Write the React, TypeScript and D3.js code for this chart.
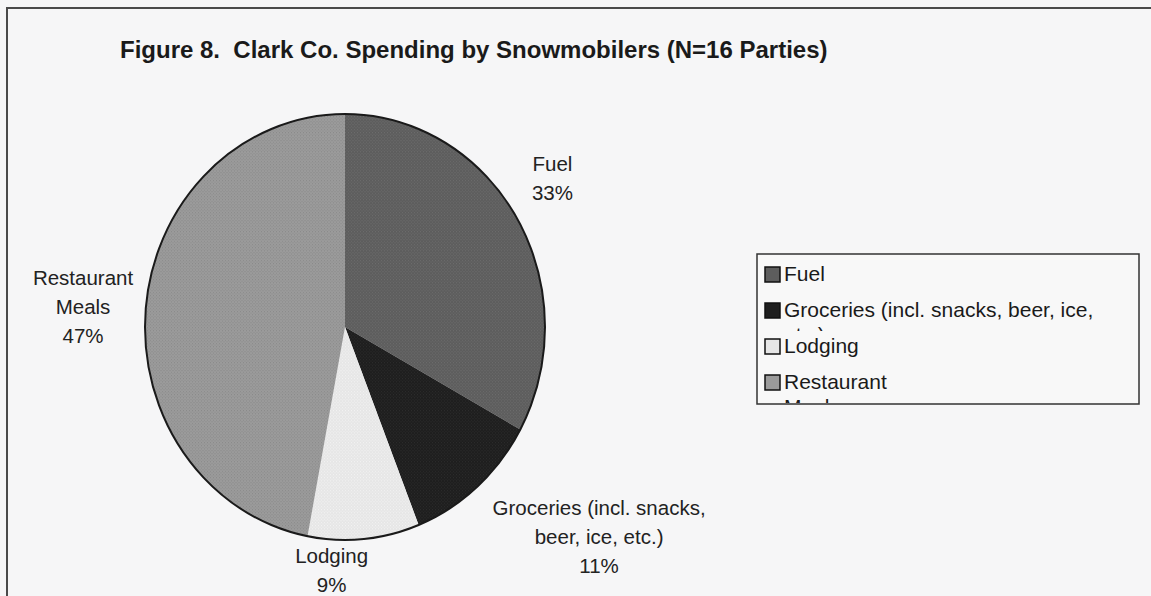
import React from "react";
import * as d3 from "d3";

const categories = ["Fuel", "Groceries (incl. snacks, beer, ice, etc.)", "Lodging", "Restaurant Meals"];
const values = [33, 11, 9, 47];
const pieLabelLines = [
  ["Fuel", "33%"],
  ["Groceries (incl. snacks,", "beer, ice, etc.)", "11%"],
  ["Lodging", "9%"],
  ["Restaurant", "Meals", "47%"],
];
const legendLines = [
  ["Fuel"],
  ["Groceries (incl. snacks, beer, ice,", "etc.)"],
  ["Lodging"],
  ["Restaurant", "Meals"],
];
const title = "Figure 8.  Clark Co. Spending by Snowmobilers (N=16 Parties)";

const W = 1151;
const H = 596;
const FILLS = ["#5d5d5d", "#1e1e1e", "#e6e6e6", "#9b9b9b"];
const DOTS = ["#6c6c6c", "#2c2c2c", "#f2f2f2", "#8a8a8a"];
const CX = 345;
const CY = 327;
const R = 200;
const YS = 1.065;
const LABEL_R = 230;
// label block nudges relative to label-arc point (layout only)
const LABEL_NUDGE: [number, number][] = [
  [9.5, -24],
  [102, 26],
  [-35, -1],
  [-33, 3],
];
const FONT = "'Liberation Sans', Arial, Helvetica, sans-serif";

export default function App() {
  const pie = d3.pie<number>().sort(null).value((d) => d);
  const arcs = pie(values);
  const arc = d3.arc<d3.PieArcDatum<number>>().innerRadius(0).outerRadius(R);

  const legendX = 757;
  const legendY = 254;
  const legendW = 382;
  const legendH = 150;
  const rowStep = 36;
  const firstBase = 281;

  return (
    <svg
      width={W}
      height={H}
      style={{ position: "absolute", left: 0, top: 0, display: "block" }}
      fontFamily={FONT}
    >
      <defs>
        {FILLS.map((f, i) => (
          <pattern id={`pat${i}`} key={i} width={3} height={3} patternUnits="userSpaceOnUse">
            <rect width={3} height={3} fill={f} />
            <rect x={0} y={0} width={1} height={1} fill={DOTS[i]} />
            <rect x={1.5} y={1.5} width={1} height={1} fill={DOTS[i]} />
          </pattern>
        ))}
        {legendLines.map((_, i) => (
          <clipPath id={`row${i}`} key={i}>
            <rect x={legendX} y={firstBase + i * rowStep - 22} width={legendW} height={36} />
          </clipPath>
        ))}
        <clipPath id="legendClip">
          <rect x={legendX} y={legendY} width={legendW} height={legendH} />
        </clipPath>
      </defs>
      <rect x={0} y={0} width={W} height={H} fill="#f6f6f7" />
      <path d={`M7,${H} L7,8 L${W},8`} fill="none" stroke="#4a4a4a" strokeWidth={2} />

      <text x={120} y={58} fontSize={24} fontWeight="bold" fill="#1a1a1a" style={{ whiteSpace: "pre" }}>
        {title}
      </text>

      <g transform={`translate(${CX},${CY}) scale(1,${YS})`}>
        {arcs.map((a, i) => (
          <path key={i} d={arc(a) || ""} fill={`url(#pat${i})`} />
        ))}
        <circle r={R} fill="none" stroke="#1a1a1a" strokeWidth={2} vectorEffect="non-scaling-stroke" />
      </g>

      {arcs.map((a, i) => {
        const mid = (a.startAngle + a.endAngle) / 2;
        const px = CX + Math.sin(mid) * LABEL_R + LABEL_NUDGE[i][0];
        const py = CY - Math.cos(mid) * LABEL_R * YS + LABEL_NUDGE[i][1];
        const lines = pieLabelLines[i];
        const lh = 29;
        const top = py - ((lines.length - 1) * lh) / 2;
        return (
          <text key={i} textAnchor="middle" fontSize={20.5} fill="#222">
            {lines.map((l, j) => (
              <tspan key={j} x={px} y={top + j * lh} dominantBaseline="central">
                {l}
              </tspan>
            ))}
          </text>
        );
      })}

      <rect x={legendX} y={legendY} width={legendW} height={legendH} fill="#f8f8f8" stroke="#333" strokeWidth={1.5} />
      <g clipPath="url(#legendClip)">
        {legendLines.map((lines, i) => {
          const base = firstBase + i * rowStep;
          return (
            <g key={i} clipPath={`url(#row${i})`}>
              <rect x={765} y={base - 14} width={15} height={15} fill={FILLS[i]} stroke="#111" strokeWidth={1.5} />
              <text fontSize={21} fill="#1a1a1a">
                {lines.map((l, j) => (
                  <tspan key={j} x={784} y={base + j * 25}>
                    {l}
                  </tspan>
                ))}
              </text>
            </g>
          );
        })}
      </g>
    </svg>
  );
}
